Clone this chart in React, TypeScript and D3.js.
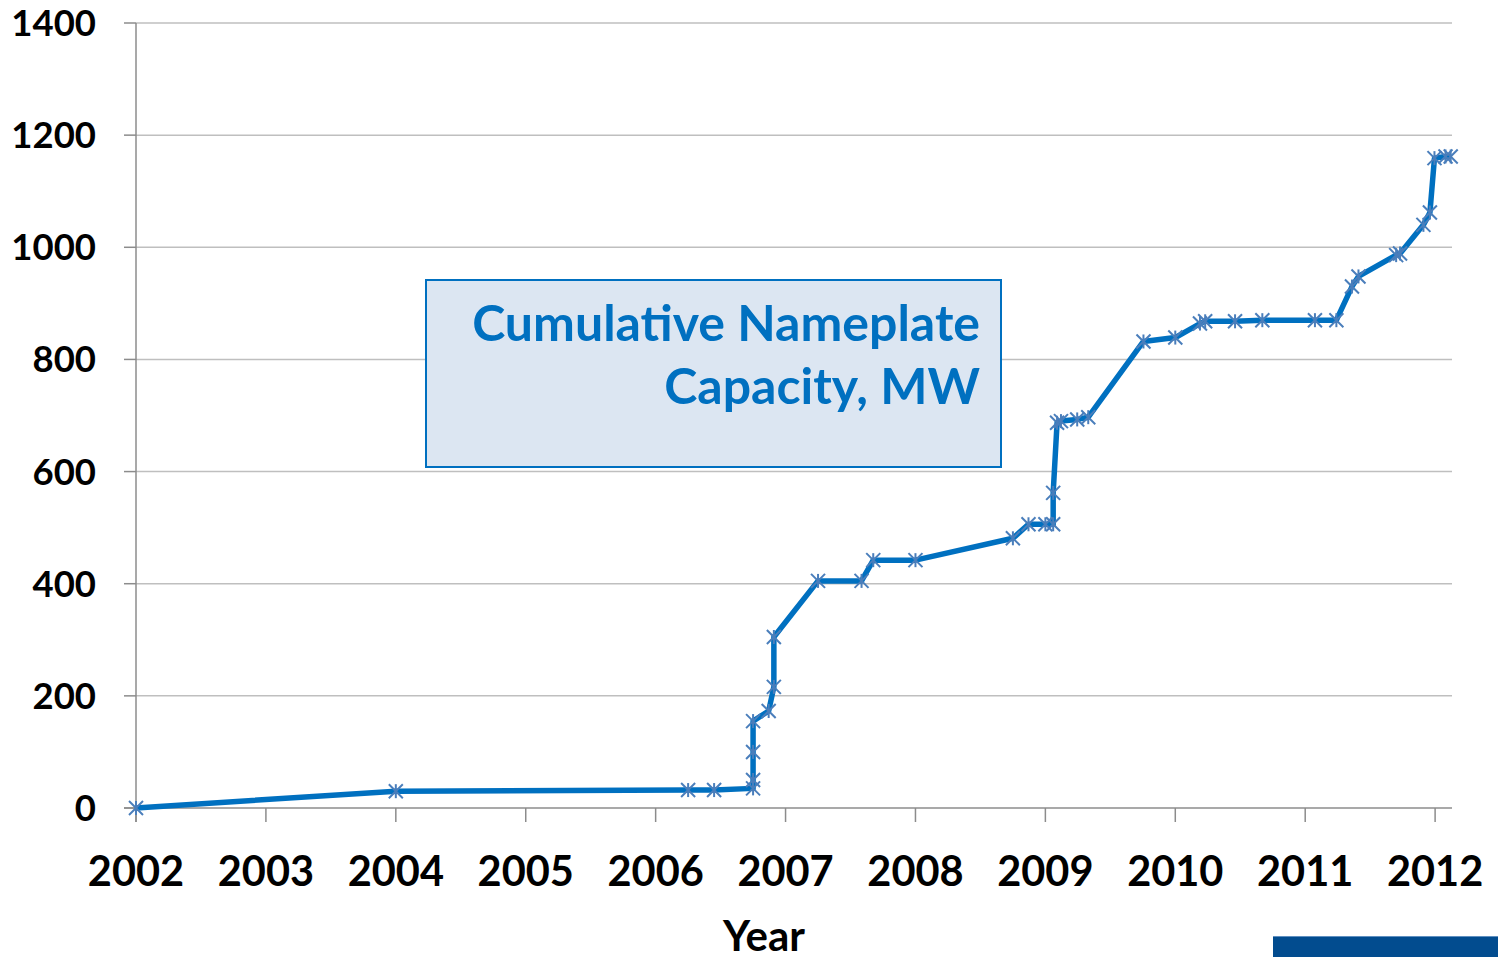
import React from "react";
import * as d3 from "d3";

const years = [2002, 2003, 2004, 2005, 2006, 2007, 2008, 2009, 2010, 2011, 2012];
const yTicks = [0, 200, 400, 600, 800, 1000, 1200, 1400];
const dates = [
  2002.0, 2004.0, 2006.25, 2006.45, 2006.75, 2006.75, 2006.75, 2006.75, 2006.87, 2006.91, 2006.91,
  2007.25, 2007.585, 2007.675, 2008.0, 2008.75, 2008.87, 2009.0, 2009.06, 2009.06, 2009.09, 2009.12,
  2009.245, 2009.33, 2009.755, 2010.0, 2010.19, 2010.23, 2010.46, 2010.67, 2011.075, 2011.24,
  2011.36, 2011.41, 2011.7, 2011.73, 2011.91, 2011.96, 2011.995, 2012.08, 2012.12,
];
const capacity = [
  0, 30, 32, 32, 35, 50, 100, 155, 173, 216, 305,
  405, 405, 442, 442, 481, 506, 506, 506, 562, 687, 690,
  693, 697, 832, 839, 864, 868, 868, 870, 870, 870,
  930, 948, 986, 989, 1040, 1062, 1159, 1162, 1162,
];
const title = ["Cumulative Nameplate", "Capacity, MW"];
const xTitle = "Year";

const W = 1498;
const H = 957;
const FONT = "Lato, 'Open Sans', sans-serif";

export default function App() {
  const x = d3.scaleLinear().domain([2002, 2012.13]).range([136, 1452]);
  const y = d3.scaleLinear().domain([0, 1400]).range([808, 23]);
  const pts = dates.map((d, i) => [x(d), y(capacity[i])] as [number, number]);
  const line = d3.line()(pts) || "";
  const star = (cx: number, cy: number, i: number) => {
    const r = 7;
    return (
      <g key={i} stroke="#4a7ebb" strokeWidth={2}>
        <line x1={cx - r} y1={cy - r} x2={cx + r} y2={cy + r} />
        <line x1={cx - r} y1={cy + r} x2={cx + r} y2={cy - r} />
        <line x1={cx} y1={cy - r} x2={cx} y2={cy + r} />
      </g>
    );
  };
  return (
    <svg
      width={W}
      height={H}
      style={{ position: "absolute", left: 0, top: 0, background: "#fff" }}
    >
      {yTicks.map((t) => (
        <g key={t}>
          {t > 0 && (
            <line x1={136} x2={1452} y1={y(t)} y2={y(t)} stroke="#bfbfbf" strokeWidth={1.5} />
          )}
          <line x1={124} x2={136} y1={y(t)} y2={y(t)} stroke="#8c8c8c" strokeWidth={1.5} />
          <text
            x={96}
            y={y(t) + 13}
            textAnchor="end"
            fontFamily={FONT}
            fontWeight={700}
            fontSize={36.5}
            fill="#000"
          >
            {t}
          </text>
        </g>
      ))}
      <line x1={136} x2={136} y1={23} y2={822} stroke="#8c8c8c" strokeWidth={1.5} />
      <line x1={124} x2={1452} y1={808} y2={808} stroke="#8c8c8c" strokeWidth={1.5} />
      {years.map((yr) => (
        <g key={yr}>
          <line x1={x(yr)} x2={x(yr)} y1={808} y2={822} stroke="#8c8c8c" strokeWidth={1.5} />
          <text
            x={x(yr)}
            y={886}
            textAnchor="middle"
            fontFamily={FONT}
            fontWeight={700}
            fontSize={41.5}
            fill="#000"
          >
            {yr}
          </text>
        </g>
      ))}
      <text
        x={764}
        y={951}
        textAnchor="middle"
        fontFamily={FONT}
        fontWeight={700}
        fontSize={42}
        fill="#000"
      >
        {xTitle}
      </text>
      <rect x={426} y={280} width={575} height={187} fill="#dce6f2" stroke="#0070c0" strokeWidth={2} />
      {title.map((t, i) => (
        <text
          key={i}
          x={980}
          y={341 + i * 63}
          textAnchor="end"
          fontFamily={FONT}
          fontWeight={700}
          fontSize={50}
          fill="#0070c0"
        >
          {t}
        </text>
      ))}
      <path d={line} fill="none" stroke="#0070c0" strokeWidth={5.5} strokeLinejoin="round" />
      {pts.map((p, i) => star(p[0], p[1], i))}
      <rect x={1273} y={936} width={225} height={21} fill="#024c8f" />
      <line x1={1273} x2={1498} y1={936.5} y2={936.5} stroke="#5f8fc0" strokeWidth={1} />
    </svg>
  );
}
